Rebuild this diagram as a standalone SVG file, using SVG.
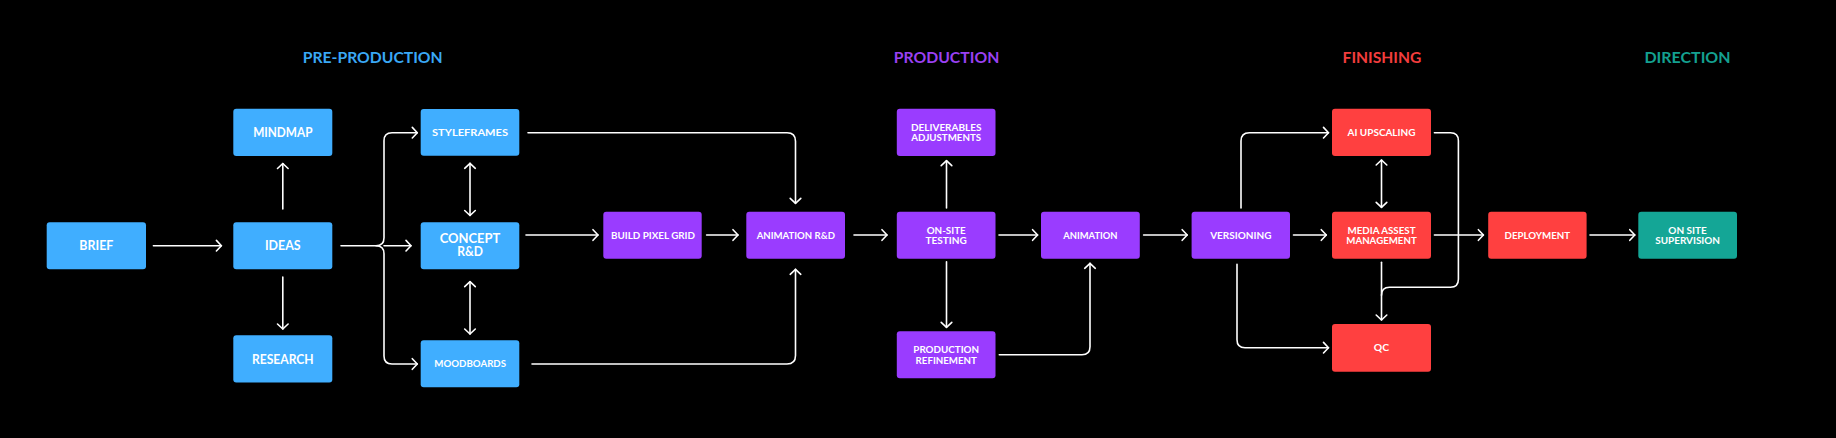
<svg xmlns="http://www.w3.org/2000/svg" width="1836" height="438" viewBox="0 0 1836 438">
<style>
.bg{fill:#000}
.b{fill:#40AEFF}
.p{fill:#9A3CFF}
.r{fill:#FF4040}
.t{fill:#14A696}
rect.n{rx:3;ry:3}
.h{font-family:Lato,"Liberation Sans",sans-serif;font-weight:700;font-size:15.5px;text-anchor:middle}
.L{font-family:Lato,"Liberation Sans",sans-serif;font-weight:700;font-size:13px;fill:#fff;text-anchor:middle}
.S{font-family:Lato,"Liberation Sans",sans-serif;font-weight:700;font-size:10px;fill:#fff;text-anchor:middle}
.c{fill:none;stroke:#fff;stroke-width:1.6;stroke-linecap:round;stroke-linejoin:round}
</style>
<defs>
<marker id="ah" markerUnits="userSpaceOnUse" markerWidth="14" markerHeight="14" viewBox="-8 -7 10 14" refX="0" refY="0" orient="auto-start-reverse">
<path d="M-5,-5.3 L0,0 L-5,5.3" fill="none" stroke="#fff" stroke-width="1.6" stroke-linecap="round" stroke-linejoin="round"/>
</marker>
</defs>
<rect class="bg" x="0" y="0" width="1836" height="438"/>

<g id="headers">
<text class="h" x="372.7" y="63.3" fill="#3AA8F5" textLength="140" lengthAdjust="spacingAndGlyphs">PRE-PRODUCTION</text>
<text class="h" x="946.5" y="63.3" fill="#9A40F2" textLength="105.6" lengthAdjust="spacingAndGlyphs">PRODUCTION</text>
<text class="h" x="1382" y="63.3" fill="#F23D3D" textLength="78.8" lengthAdjust="spacingAndGlyphs">FINISHING</text>
<text class="h" x="1687.5" y="63.3" fill="#14A090" textLength="86.2" lengthAdjust="spacingAndGlyphs">DIRECTION</text>
</g>

<g id="connectors">
<path class="c" marker-end="url(#ah)" d="M153.4,245.7 H221.4"/>
<path class="c" marker-end="url(#ah)" d="M282.8,209 V163.5"/>
<path class="c" marker-end="url(#ah)" d="M282.8,277 V329"/>
<path class="c" marker-end="url(#ah)" d="M341,245.7 H376 Q384,245.7 384,237.7 V140.7 Q384,132.7 392,132.7 H417.3"/>
<path class="c" marker-end="url(#ah)" d="M376,245.7 Q384,245.7 384,253.7 V356 Q384,364 392,364 H417.3"/>
<path class="c" marker-end="url(#ah)" d="M384,245.7 H411"/>
<path class="c" marker-start="url(#ah)" marker-end="url(#ah)" d="M470,163.3 V215.5"/>
<path class="c" marker-start="url(#ah)" marker-end="url(#ah)" d="M470,281.7 V334"/>
<path class="c" marker-end="url(#ah)" d="M528,132.7 H787 Q795.5,132.7 795.5,141.2 V203.3"/>
<path class="c" marker-end="url(#ah)" d="M532,364 H787 Q795.5,364 795.5,355.5 V269.3"/>
<path class="c" marker-end="url(#ah)" d="M526,235 H598"/>
<path class="c" marker-end="url(#ah)" d="M706.6,235 H738"/>
<path class="c" marker-end="url(#ah)" d="M854,235 H887"/>
<path class="c" marker-end="url(#ah)" d="M999,235 H1037.6"/>
<path class="c" marker-end="url(#ah)" d="M1143.6,235 H1187.2"/>
<path class="c" marker-end="url(#ah)" d="M946.5,208 V160.7"/>
<path class="c" marker-end="url(#ah)" d="M946.5,261.7 V327.3"/>
<path class="c" marker-end="url(#ah)" d="M999.3,354.7 H1082 Q1090,354.7 1090,346.7 V263.3"/>
<path class="c" marker-end="url(#ah)" d="M1241,208 V141 Q1241,132.7 1249.3,132.7 H1328.5"/>
<path class="c" marker-end="url(#ah)" d="M1293.5,235 H1326.3"/>
<path class="c" marker-end="url(#ah)" d="M1237,264.3 V339.7 Q1237,347.7 1245,347.7 H1328.5"/>
<path class="c" marker-start="url(#ah)" marker-end="url(#ah)" d="M1381.5,160 V207.3"/>
<path class="c" marker-end="url(#ah)" d="M1381.5,262.3 V320"/>
<path class="c" d="M1434.4,132.7 H1450.4 Q1458.4,132.7 1458.4,140.7 V279.3 Q1458.4,287.3 1450.4,287.3 H1389.5 Q1381.5,287.3 1381.5,295.3"/>
<path class="c" marker-end="url(#ah)" d="M1434.4,235 H1483.4"/>
<path class="c" marker-end="url(#ah)" d="M1590,235 H1634.8"/>
</g>

<g id="brief"><rect class="n b" x="46.7" y="222.3" width="99.3" height="47"/><text class="L" x="96.3" y="250.2" textLength="34" lengthAdjust="spacingAndGlyphs">BRIEF</text></g>
<g id="ideas"><rect class="n b" x="233.3" y="222.3" width="99" height="47"/><text class="L" x="282.8" y="250.2" textLength="35.7" lengthAdjust="spacingAndGlyphs">IDEAS</text></g>
<g id="mindmap"><rect class="n b" x="233.3" y="108.7" width="99" height="47.3"/><text class="L" x="282.8" y="137.3" textLength="59.3" lengthAdjust="spacingAndGlyphs">MINDMAP</text></g>
<g id="research"><rect class="n b" x="233.3" y="335.3" width="99" height="47.3"/><text class="L" x="282.8" y="363.5" textLength="61.7" lengthAdjust="spacingAndGlyphs">RESEARCH</text></g>
<g id="styleframes"><rect class="n b" x="420.7" y="109" width="98.6" height="46.7"/><text class="S" x="470" y="136.2" textLength="76" lengthAdjust="spacingAndGlyphs">STYLEFRAMES</text></g>
<g id="concept"><rect class="n b" x="420.7" y="222.3" width="98.6" height="47"/><text class="L" x="470" y="243.3" textLength="60.7" lengthAdjust="spacingAndGlyphs">CONCEPT</text><text class="L" x="470" y="256.2" textLength="25.7" lengthAdjust="spacingAndGlyphs">R&amp;D</text></g>
<g id="moodboards"><rect class="n b" x="420.7" y="340.3" width="98.6" height="47"/><text class="S" x="470.2" y="367.2" textLength="71.7" lengthAdjust="spacingAndGlyphs">MOODBOARDS</text></g>

<g id="build-pixel-grid"><rect class="n p" x="603.3" y="211.7" width="98.4" height="47"/><text class="S" x="653" y="238.7" textLength="84" lengthAdjust="spacingAndGlyphs">BUILD PIXEL GRID</text></g>
<g id="animation-rd"><rect class="n p" x="746.3" y="211.7" width="98.7" height="47"/><text class="S" x="795.8" y="238.7" textLength="78.3" lengthAdjust="spacingAndGlyphs">ANIMATION R&amp;D</text></g>
<g id="deliverables"><rect class="n p" x="896.8" y="108.7" width="98.7" height="47.3"/><text class="S" x="946.2" y="130.9" textLength="70.4" lengthAdjust="spacingAndGlyphs">DELIVERABLES</text><text class="S" x="946.2" y="141.3" textLength="69.7" lengthAdjust="spacingAndGlyphs">ADJUSTMENTS</text></g>
<g id="on-site-testing"><rect class="n p" x="896.8" y="211.7" width="98.7" height="47"/><text class="S" x="946.2" y="233.6" textLength="39" lengthAdjust="spacingAndGlyphs">ON-SITE</text><text class="S" x="946.2" y="244" textLength="41.3" lengthAdjust="spacingAndGlyphs">TESTING</text></g>
<g id="production-refinement"><rect class="n p" x="896.8" y="331.3" width="98.7" height="47"/><text class="S" x="946.2" y="352.9" textLength="65.8" lengthAdjust="spacingAndGlyphs">PRODUCTION</text><text class="S" x="946.2" y="363.6" textLength="61.2" lengthAdjust="spacingAndGlyphs">REFINEMENT</text></g>
<g id="animation"><rect class="n p" x="1041" y="211.7" width="98.8" height="47"/><text class="S" x="1090.4" y="238.7" textLength="54.3" lengthAdjust="spacingAndGlyphs">ANIMATION</text></g>
<g id="versioning"><rect class="n p" x="1191.6" y="211.7" width="98.4" height="47"/><text class="S" x="1240.8" y="238.7" textLength="61.2" lengthAdjust="spacingAndGlyphs">VERSIONING</text></g>

<g id="ai-upscaling"><rect class="n r" x="1332" y="108.7" width="99" height="47.3"/><text class="S" x="1381.5" y="136.2" textLength="67.8" lengthAdjust="spacingAndGlyphs">AI UPSCALING</text></g>
<g id="media-asset-management"><rect class="n r" x="1332" y="211.7" width="99" height="47"/><text class="S" x="1381.5" y="233.6" textLength="68.2" lengthAdjust="spacingAndGlyphs">MEDIA ASSEST</text><text class="S" x="1381.5" y="244" textLength="70.4" lengthAdjust="spacingAndGlyphs">MANAGEMENT</text></g>
<g id="qc"><rect class="n r" x="1332" y="324" width="99" height="47.7"/><text class="S" x="1381.5" y="351.3" textLength="15.3" lengthAdjust="spacingAndGlyphs">QC</text></g>
<g id="deployment"><rect class="n r" x="1488.2" y="211.7" width="98.4" height="47"/><text class="S" x="1537.4" y="238.7" textLength="65.6" lengthAdjust="spacingAndGlyphs">DEPLOYMENT</text></g>

<g id="on-site-supervision"><rect class="n t" x="1638.3" y="211.7" width="98.7" height="47"/><text class="S" x="1687.6" y="233.6" textLength="38.5" lengthAdjust="spacingAndGlyphs">ON SITE</text><text class="S" x="1687.6" y="244" textLength="64.8" lengthAdjust="spacingAndGlyphs">SUPERVISION</text></g>
</svg>
